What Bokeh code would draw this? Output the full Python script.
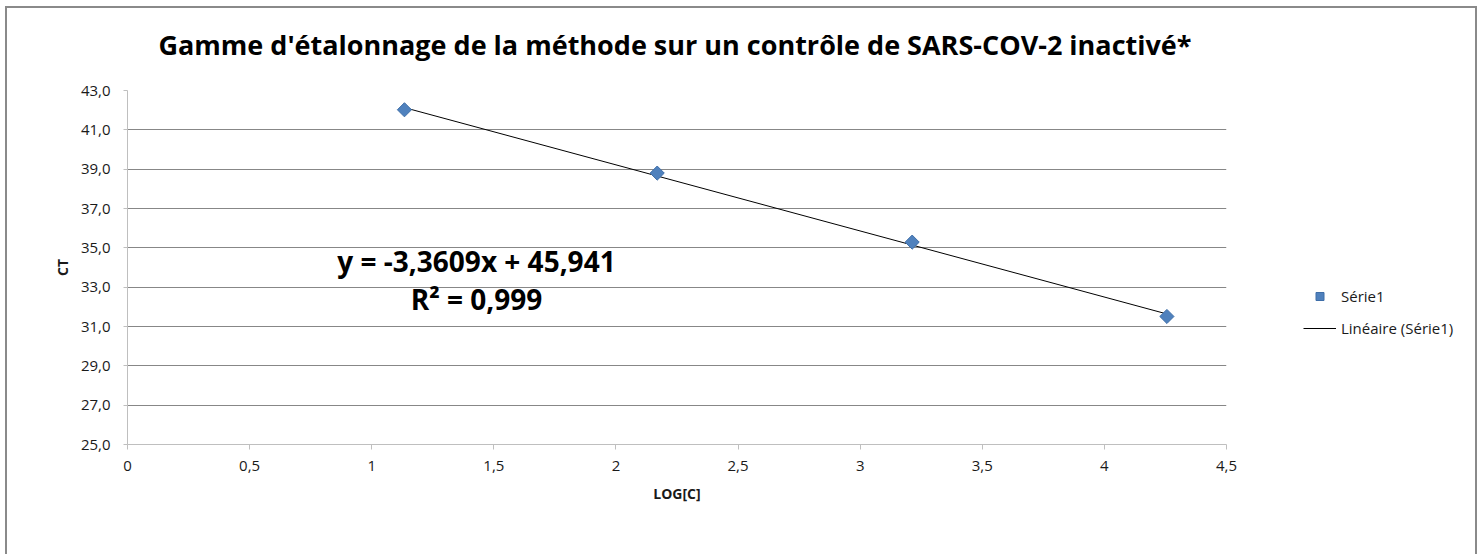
from bokeh.plotting import figure
from bokeh.models import Range1d, FixedTicker, Label, Legend, LegendItem
from bokeh.layouts import column, row
from bokeh.embed import file_html
from bokeh.resources import INLINE

# ---- data ----
log_c = [1.134, 2.169, 3.213, 4.256]
ct = [42.02, 38.80, 35.29, 31.51]
slope = -3.3609
intercept = 45.941

x_ticks = [0, 0.5, 1, 1.5, 2, 2.5, 3, 3.5, 4, 4.5]
x_tick_labels = ["0", "0,5", "1", "1,5", "2", "2,5", "3", "3,5", "4", "4,5"]
y_ticks = [25, 27, 29, 31, 33, 35, 37, 39, 41, 43]
y_tick_labels = ["25,0", "27,0", "29,0", "31,0", "33,0", "35,0", "37,0", "39,0", "41,0", "43,0"]

title_text = "Gamme d'étalonnage de la méthode sur un contrôle de SARS-COV-2 inactivé*"
eq_line1 = "y = -3,3609x + 45,941"
eq_line2 = "R² = 0,999"
series_name = "Série1"
trend_name = "Linéaire (Série1)"
x_label = "LOG[C]"
y_label = "CT"

FONT = "Open Sans"
TXT = "#1a1a1a"
BLUE = "#4f81bd"
BLUE_EDGE = "#3e6ea8"


def blank(width, height):
    f = figure(width=width, height=height, x_axis_type=None, y_axis_type=None,
               x_range=Range1d(0, 1), y_range=Range1d(0, 1),
               output_backend="svg", toolbar_location=None, title_location=None,
               min_border=0, outline_line_color=None,
               background_fill_color="white", border_fill_color="white")
    return f


# ---- title strip ----
pt = blank(1468, 70)
pt.add_layout(Label(x=667.5, y=34, x_units="screen", y_units="screen",
                    text=title_text, text_align="center", text_baseline="alphabetic",
                    text_font=FONT, text_font_style="bold",
                    text_font_size="27px", text_color="black"))

# ---- main chart ----
p = figure(width=1234, height=476,
           x_range=Range1d(0, 4.5), y_range=Range1d(25, 43),
           output_backend="svg", toolbar_location=None, title_location=None,
           min_border_left=120, min_border_right=15,
           min_border_top=12, min_border_bottom=110,
           background_fill_color="white", border_fill_color="white",
           outline_line_color=None)

p.xgrid.visible = False
p.ygrid.ticker = FixedTicker(ticks=y_ticks)
p.ygrid.grid_line_color = "#878787"
p.ygrid.grid_line_width = 1

for ax in (p.xaxis[0], p.yaxis[0]):
    ax.axis_line_color = "#bfbfbf"
    ax.major_tick_line_color = "#bfbfbf"
    ax.minor_tick_line_color = None
    ax.major_tick_in = 0
    ax.major_label_text_font = FONT
    ax.major_label_text_font_size = "15px"
    ax.major_label_text_color = TXT
    ax.axis_label_text_font = FONT
    ax.axis_label_text_font_size = "14px"
    ax.axis_label_text_font_style = "bold"
    ax.axis_label_text_color = TXT

p.xaxis.ticker = FixedTicker(ticks=x_ticks)
p.xaxis.major_label_overrides = dict(zip(x_ticks, x_tick_labels))
p.xaxis.major_tick_out = 5
p.xaxis.major_label_standoff = 11
p.xaxis.axis_label = x_label
p.xaxis.axis_label_standoff = 10

p.yaxis.ticker = FixedTicker(ticks=y_ticks)
p.yaxis.major_label_overrides = dict(zip(y_ticks, y_tick_labels))
p.yaxis.major_tick_out = 4
p.yaxis.major_label_standoff = 13
p.yaxis.axis_label = y_label
p.yaxis.axis_label_standoff = 6

# trend line from the displayed equation, between first and last points
tx = [log_c[0], log_c[-1]]
ty = [slope * v + intercept for v in tx]
p.line(tx, ty, line_color="black", line_width=1)

p.scatter(log_c, ct, marker="square", angle=0.785398, size=10,
          fill_color=BLUE, line_color=BLUE_EDGE, line_width=1)

p.add_layout(Label(x=349, y=184, x_units="screen", y_units="screen",
                   text=eq_line1, text_align="center", text_baseline="alphabetic",
                   text_font=FONT, text_font_style="bold",
                   text_font_size="28px", text_color="black"))
p.add_layout(Label(x=349, y=146, x_units="screen", y_units="screen",
                   text=eq_line2, text_align="center", text_baseline="alphabetic",
                   text_font=FONT, text_font_style="bold",
                   text_font_size="28px", text_color="black"))

# ---- legend strip: key renderers reuse the same data, which falls outside
# this strip's (0, 1) ranges, so only their legend keys show ----
pl = blank(234, 476)
key_pts = pl.scatter(log_c, ct, marker="square", angle=0.785398, size=10,
                     fill_color=BLUE, line_color=BLUE_EDGE, line_width=1)
key_line = pl.line(tx, ty, line_color="black", line_width=1)
legend = Legend(items=[LegendItem(label=series_name, renderers=[key_pts]),
                       LegendItem(label=trend_name, renderers=[key_line])],
                location=(62, 106), padding=0, margin=0, spacing=12,
                glyph_width=33, glyph_height=20, label_height=20,
                label_standoff=5, label_text_font=FONT,
                label_text_font_size="15px", label_text_color=TXT,
                border_line_color=None, background_fill_alpha=0)
pl.add_layout(legend)

layout = column(pt, row(p, pl))
layout.styles = {"margin-left": "5px", "margin-top": "6px",
                 "border-top": "2px solid #8a8a8a", "border-left": "2px solid #8a8a8a",
                 "border-right": "2px solid #8a8a8a"}

open("out.html", "w").write(file_html(layout, INLINE))
